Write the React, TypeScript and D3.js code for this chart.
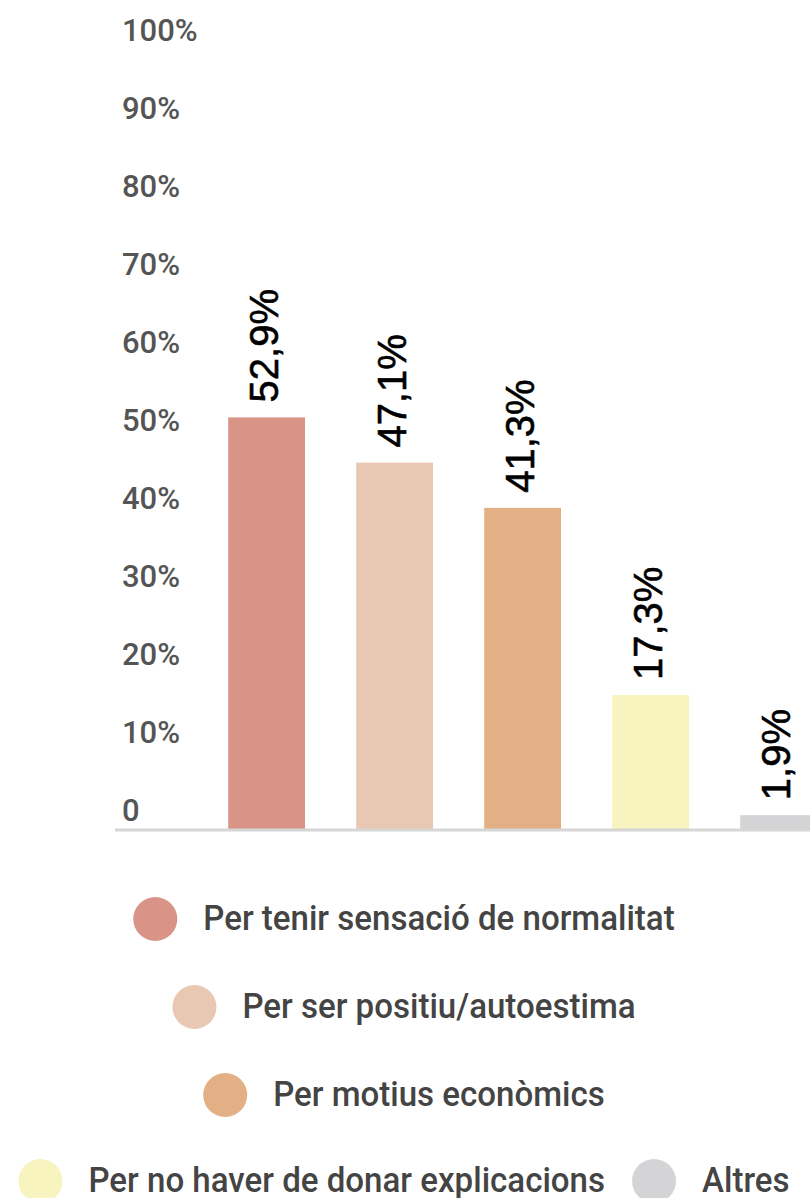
import { useEffect, useRef } from 'react'
import * as d3 from 'd3'

const categories = [
  'Per tenir sensació de normalitat',
  'Per ser positiu/autoestima',
  'Per motius econòmics',
  'Per no haver de donar explicacions',
  'Altres',
]
const values = [52.9, 47.1, 41.3, 17.3, 1.9]
const colors = ['#d99487', '#e8c8b2', '#e3b086', '#f7f4bf', '#d4d4d6']
const ticks = [0, 10, 20, 30, 40, 50, 60, 70, 80, 90, 100]
// legend rows, as indexes into categories
const legendRows = [[0], [1], [2], [3, 4]]

const W = 810
const H = 1198

export default function App() {
  const ref = useRef<SVGSVGElement>(null)

  useEffect(() => {
    const svg = d3.select(ref.current)
    svg.selectAll('*').remove()

    const y = d3.scaleLinear().domain([0, 100]).range([830, 50])
    const x = d3.scaleBand<string>()
      .domain(categories)
      .range([177, 177 + 5.4 * 128])
      .paddingInner(0.4)
      .paddingOuter(0.4)

    // y tick labels (no axis line)
    svg.append('g').selectAll('text').data(ticks).enter().append('text')
      .attr('x', 122)
      .attr('y', d => y(d) - 9)
      .attr('font-family', 'Roboto, sans-serif')
      .attr('font-weight', 500)
      .attr('font-size', 31)
      .attr('fill', '#555')
      .text(d => (d === 0 ? '0' : `${d}%`))

    // bars
    svg.append('g').selectAll('rect').data(values).enter().append('rect')
      .attr('x', (d, i) => x(categories[i])!)
      .attr('y', d => y(d))
      .attr('width', x.bandwidth())
      .attr('height', d => y(0) - y(d))
      .attr('fill', (d, i) => colors[i])

    // baseline
    svg.append('line')
      .attr('x1', 115).attr('x2', W)
      .attr('y1', y(0)).attr('y2', y(0))
      .attr('stroke', '#d6d6d6').attr('stroke-width', 3)

    // value labels
    svg.append('g').selectAll('text').data(values).enter().append('text')
      .attr('transform', (d, i) => {
        const cx = x(categories[i])! + x.bandwidth() / 2 + 11
        return `translate(${cx},${y(d) - 15}) rotate(-90)`
      })
      .attr('font-family', '"Liberation Sans", Arial, sans-serif')
      .attr('font-size', 40)
      .attr('fill', '#000')
      .attr('stroke', '#000')
      .attr('stroke-width', 0.6)
      .text(d => `${d.toString().replace('.', ',')}%`)

    // legend, centered rows
    const legend = svg.append('g')
    const rowY = [918, 1006, 1094, 1180]
    const r = 22
    const gap = 26
    const itemGap = 27
    const sx = 0.945
    legendRows.forEach((row, ri) => {
      const g = legend.append('g')
      let cursor = 0
      row.forEach((ci, k) => {
        if (k > 0) cursor += itemGap
        g.append('circle')
          .attr('cx', cursor + r).attr('cy', rowY[ri] + 1).attr('r', r)
          .attr('fill', colors[ci])
        const t = g.append('text')
          .attr('transform', `translate(${cursor + 2 * r + gap},${rowY[ri]}) scale(${sx},1)`)
          .attr('dy', '0.35em')
          .attr('font-family', 'Roboto, sans-serif')
          .attr('font-weight', 500)
          .attr('font-size', 35)
          .attr('fill', '#444')
          .text(categories[ci])
        cursor += 2 * r + gap + sx * (t.node() as SVGTextElement).getComputedTextLength()
      })
      g.attr('transform', `translate(${404 - cursor / 2},0)`)
    })
  }, [])

  return (
    <svg
      ref={ref}
      width={W}
      height={H}
      style={{ position: 'absolute', left: 0, top: 0, background: '#fff' }}
    />
  )
}
